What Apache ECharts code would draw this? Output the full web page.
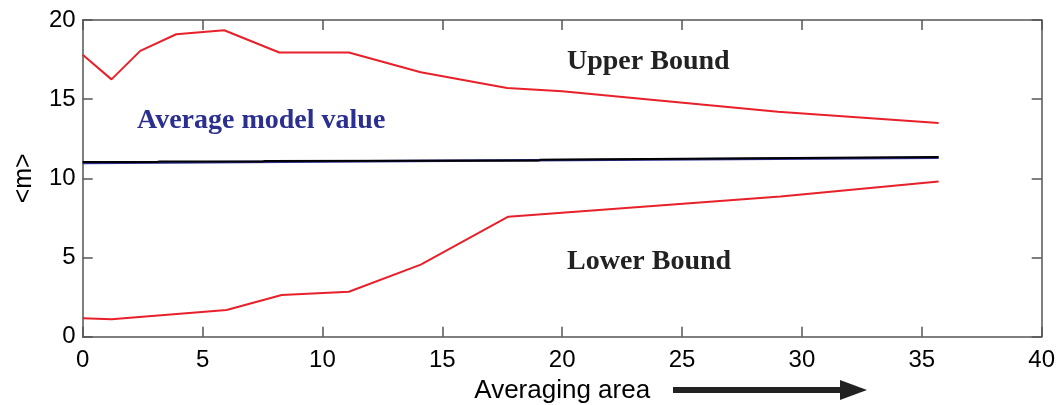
<!DOCTYPE html>
<html><head><meta charset="utf-8">
<script src="https://cdn.jsdelivr.net/npm/echarts@6/dist/echarts.min.js"></script>
<style>html,body{margin:0;padding:0;background:#fff}#c{width:1061px;height:405px}</style>
</head><body><div id="c"></div>
<script>
const xUpper = [0, 1.2, 2.4, 3.9, 5.9, 8.2, 11.1, 14.1, 17.7, 20, 23.5, 29, 35.7];
const upper  = [17.8, 16.25, 18.05, 19.1, 19.35, 17.95, 17.95, 16.7, 15.7, 15.5, 15.0, 14.2, 13.5];
const xLower = [0, 1.2, 6.0, 8.3, 11.1, 14.1, 17.75, 29.1, 35.7];
const lower  = [1.16, 1.1, 1.69, 2.63, 2.84, 4.55, 7.58, 8.85, 9.8];
const xMeanBlue = [0, 35.7];
const meanBlue  = [10.97, 11.3];
const xMeanBlack = [0, 3.1, 3.2, 7.5, 7.6, 19.0, 19.1, 35.7];
const meanBlack  = [11.03, 11.03, 11.06, 11.06, 11.1, 11.12, 11.17, 11.35];
const xTicks = [0, 5, 10, 15, 20, 25, 30, 35, 40];
const yTicks = [0, 5, 10, 15, 20];

const pairs = (xs, ys) => xs.map((x, i) => [x, ys[i]]);
const chart = echarts.init(document.getElementById('c'));
const axisCol = '#555';
const lab = {fontFamily: 'Liberation Sans, Arial', fontSize: 24, color: '#000'};
chart.setOption({
  animation: false,
  grid: {left: 82.7, right: 19.3, top: 20, bottom: 68.3, containLabel: false, outerBoundsMode: 'none'},
  xAxis: [{
    type: 'value', min: 0, max: 40, interval: 5,
    axisLine: {onZero: false, lineStyle: {color: axisCol, width: 1.5}},
    axisTick: {inside: true, length: 10, lineStyle: {color: axisCol, width: 1.5}},
    axisLabel: Object.assign({margin: 12}, lab),
    splitLine: {show: false},
    name: 'Averaging area', nameLocation: 'middle', nameGap: 41,
    nameTextStyle: {fontFamily: 'Liberation Sans, Arial', fontSize: 26, color: '#000'}
  }, {
    type: 'value', min: 0, max: 40, interval: 5, position: 'top',
    axisLine: {show: true, onZero: false, lineStyle: {color: axisCol, width: 1.5}},
    axisTick: {show: true, inside: true, length: 10, lineStyle: {color: axisCol, width: 1.5}},
    axisLabel: {show: false}, splitLine: {show: false}
  }],
  yAxis: [{
    type: 'value', min: 0, max: 20, interval: 5,
    axisLine: {show: true, onZero: false, lineStyle: {color: axisCol, width: 1.5}},
    axisTick: {show: true, inside: true, length: 10, lineStyle: {color: axisCol, width: 1.5}},
    axisLabel: Object.assign({margin: 7}, lab),
    splitLine: {show: false},
    name: '<m>', nameLocation: 'middle', nameGap: 46, nameRotate: 90,
    nameTextStyle: {fontFamily: 'Liberation Sans, Arial', fontSize: 25, color: '#000'}
  }, {
    type: 'value', min: 0, max: 20, interval: 5, position: 'right',
    axisLine: {show: true, onZero: false, lineStyle: {color: axisCol, width: 1.5}},
    axisTick: {show: true, inside: true, length: 10, lineStyle: {color: axisCol, width: 1.5}},
    axisLabel: {show: false}, splitLine: {show: false}
  }],
  series: [
    {type: 'line', data: pairs(xUpper, upper), symbol: 'none', lineStyle: {color: '#e8202a', width: 2}},
    {type: 'line', data: pairs(xLower, lower), symbol: 'none', lineStyle: {color: '#e8202a', width: 2}},
    {type: 'line', data: pairs(xMeanBlue, meanBlue), symbol: 'none', lineStyle: {color: '#2b2f8f', width: 2.5}},
    {type: 'line', data: pairs(xMeanBlack, meanBlack), symbol: 'none', lineStyle: {color: '#000', width: 2}}
  ],
  graphic: [
    {type: 'text', left: 567, top: 48, style: {text: 'Upper Bound', font: 'bold 28px "Liberation Serif", "Times New Roman", serif', fill: '#222'}},
    {type: 'text', left: 567, top: 248, style: {text: 'Lower Bound', font: 'bold 28px "Liberation Serif", "Times New Roman", serif', fill: '#222'}},
    {type: 'text', left: 137, top: 107, style: {text: 'Average model value', font: 'bold 28px "Liberation Serif", "Times New Roman", serif', fill: '#2b2f8f'}},
    {type: 'rect', shape: {x: 673, y: 387, width: 170, height: 6}, style: {fill: '#222'}},
    {type: 'polygon', shape: {points: [[840, 380], [867, 390], [840, 400]]}, style: {fill: '#222'}}
  ]
});
</script></body></html>
